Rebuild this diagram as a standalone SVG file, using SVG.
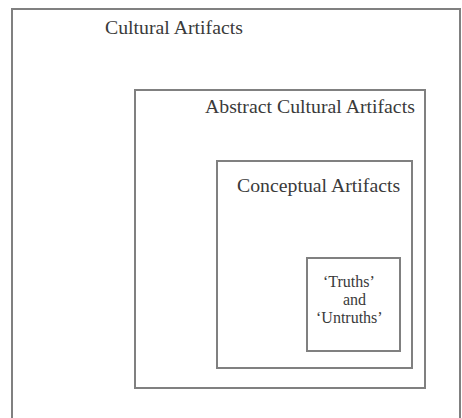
<svg xmlns="http://www.w3.org/2000/svg" width="462" height="418" viewBox="0 0 462 418">
<style>
.box{fill:none;stroke:#808080;stroke-width:2}
.lbl{font-family:"Liberation Serif","Times New Roman",serif;font-size:19.8px;fill:#3a3a3a}
.sm{font-family:"Liberation Serif","Times New Roman",serif;font-size:16px;fill:#3a3a3a}
</style>
<rect width="462" height="418" fill="#fff"/>
<g id="cultural-artifacts">
<rect class="box" x="12" y="9" width="448" height="420"/>
<text class="lbl" x="105" y="34">Cultural Artifacts</text>
</g>
<g id="abstract-cultural-artifacts">
<rect class="box" x="135" y="90" width="290" height="298"/>
<text class="lbl" x="205" y="113">Abstract Cultural Artifacts</text>
</g>
<g id="conceptual-artifacts">
<rect class="box" x="217" y="161" width="195" height="207"/>
<text class="lbl" x="237" y="192">Conceptual Artifacts</text>
</g>
<g id="truths-and-untruths">
<rect class="box" x="307" y="258" width="93" height="93"/>
<text class="sm" x="323" y="287">‘Truths’</text>
<text class="sm" x="343" y="305">and</text>
<text class="sm" x="316" y="323">‘Untruths’</text>
</g>
</svg>
